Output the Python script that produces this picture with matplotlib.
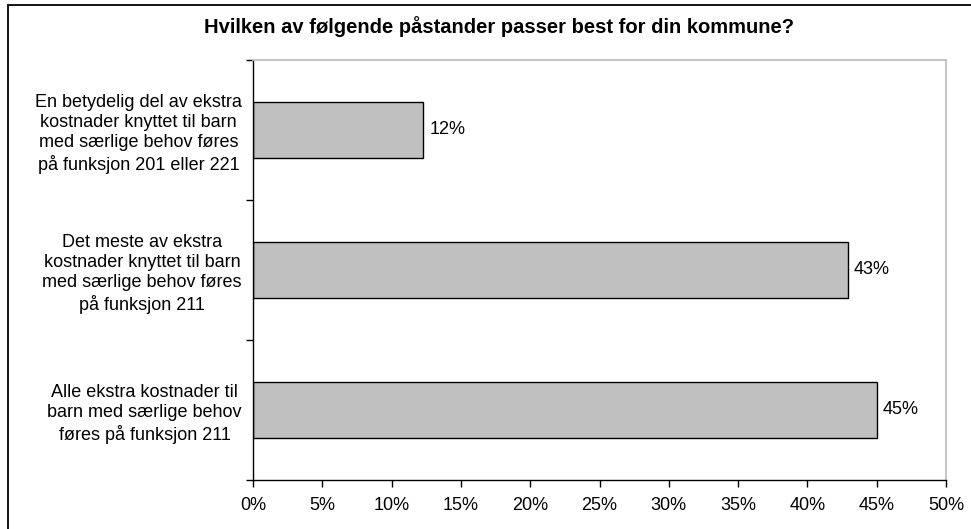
import matplotlib.pyplot as plt
from matplotlib.patches import Rectangle
import numpy as np

plt.rcParams['font.family'] = ['Liberation Sans', 'DejaVu Sans']

title = 'Hvilken av følgende påstander passer best for din kommune?'
categories = [
    'Alle ekstra kostnader til\nbarn med særlige behov\nføres på funksjon 211',
    'Det meste av ekstra\nkostnader knyttet til barn\nmed særlige behov føres\npå funksjon 211',
    'En betydelig del av ekstra\nkostnader knyttet til barn\nmed særlige behov føres\npå funksjon 201 eller 221',
]
values = [45.0, 42.9, 12.3]
xticks = [0, 5, 10, 15, 20, 25, 30, 35, 40, 45, 50]

W, H = 971, 529
fig = plt.figure(figsize=(W / 100, H / 100), dpi=100)
fig.patches.append(Rectangle((8 / W, -0.1), 1.2, 1 - 5 / H + 0.1, transform=fig.transFigure,
                             fill=False, edgecolor='black', linewidth=1.3))

left, right, top, bottom = 253, 946, 60, 480
ax = fig.add_axes([left / W, 1 - bottom / H, (right - left) / W, (bottom - top) / H])

y = np.arange(len(values))
ax.barh(y, values, height=0.4, color='#c0c0c0', edgecolor='black', linewidth=1)
for yi, v in zip(y, values):
    ax.text(v + 0.45, yi, f'{v:.0f}%', va='center', ha='left', fontsize=13)

ax.set_xlim(0, 50)
ax.set_ylim(-0.5, len(values) - 0.5)
ax.set_xticks(xticks)
ax.set_xticklabels([f'{t}%' for t in xticks], fontsize=13)
ax.set_yticks(y)
ax.set_yticklabels(categories, fontsize=13, multialignment='center', linespacing=1.25)
ax.set_yticks(np.arange(len(values) + 1) - 0.5, minor=True)
ax.tick_params(axis='y', which='major', length=0, pad=8)
ax.tick_params(axis='y', which='minor', length=5, width=1, direction='out')
ax.tick_params(axis='x', length=5, width=1, direction='out', pad=7)

for s in ['top', 'right']:
    ax.spines[s].set_color('#c0c0c0')
    ax.spines[s].set_linewidth(1.3)
for s in ['left', 'bottom']:
    ax.spines[s].set_color('black')
    ax.spines[s].set_linewidth(1)

fig.text(499 / W, 1 - 27 / H, title, ha='center', va='center', fontsize=14.5, fontweight='bold')

fig.savefig('out.png', dpi=100)
